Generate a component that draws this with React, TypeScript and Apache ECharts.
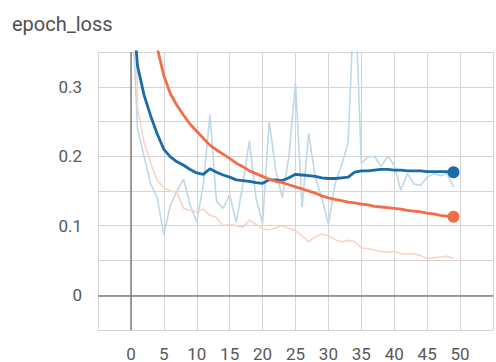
import React, { useEffect, useRef } from "react";
import * as echarts from "echarts";

const epochs = [
  0, 1, 2, 3, 4, 5, 6, 7, 8, 9, 10, 11, 12, 13, 14, 15, 16, 17, 18, 19, 20, 21, 22, 23, 24,
  25, 26, 27, 28, 29, 30, 31, 32, 33, 34, 35, 36, 37, 38, 39, 40, 41, 42, 43, 44, 45, 46, 47, 48, 49,
];

const blueRaw = [
  0.45, 0.24, 0.2, 0.16, 0.14, 0.087, 0.13, 0.15, 0.167, 0.13, 0.105, 0.16, 0.26, 0.135, 0.125,
  0.145, 0.105, 0.16, 0.222, 0.14, 0.103, 0.25, 0.18, 0.14, 0.2, 0.305, 0.127, 0.233, 0.17, 0.14,
  0.102, 0.16, 0.187, 0.22, 0.45, 0.19, 0.199, 0.2, 0.185, 0.2, 0.187, 0.151, 0.175, 0.16, 0.158,
  0.17, 0.175, 0.172, 0.175, 0.156,
];

const blueSmooth = [
  0.45, 0.33, 0.288, 0.258, 0.232, 0.21, 0.199, 0.192, 0.187, 0.181, 0.176, 0.174, 0.182, 0.177,
  0.173, 0.17, 0.166, 0.165, 0.164, 0.162, 0.161, 0.166, 0.166, 0.165, 0.169, 0.174, 0.173, 0.172,
  0.171, 0.169, 0.168, 0.168, 0.169, 0.17, 0.177, 0.179, 0.179, 0.18, 0.181, 0.181, 0.18, 0.18,
  0.179, 0.179, 0.179, 0.178, 0.178, 0.178, 0.178, 0.177,
];

const orangeRaw = [
  0.9, 0.27, 0.22, 0.19, 0.165, 0.155, 0.15, 0.148, 0.125, 0.122, 0.12, 0.124, 0.115, 0.112, 0.1,
  0.102, 0.1, 0.098, 0.108, 0.102, 0.096, 0.094, 0.097, 0.1, 0.096, 0.093, 0.085, 0.077, 0.084,
  0.088, 0.086, 0.08, 0.077, 0.079, 0.077, 0.068, 0.067, 0.065, 0.063, 0.062, 0.063, 0.06, 0.059,
  0.06, 0.057, 0.053, 0.054, 0.055, 0.056, 0.053,
];

const orangeSmooth = [
  0.9, 0.64, 0.5, 0.41, 0.356, 0.316, 0.29, 0.273, 0.259, 0.246, 0.236, 0.226, 0.216, 0.209, 0.203,
  0.197, 0.19, 0.185, 0.179, 0.175, 0.171, 0.167, 0.164, 0.162, 0.159, 0.156, 0.153, 0.15, 0.147,
  0.143, 0.14, 0.138, 0.136, 0.134, 0.133, 0.131, 0.13, 0.128, 0.127, 0.126, 0.125, 0.124, 0.122,
  0.121, 0.12, 0.118, 0.117, 0.115, 0.114, 0.113,
];

const xTickLabels = [0, 5, 10, 15, 20, 25, 30, 35, 40, 45, 50];
const yTickLabels = [0, 0.1, 0.2, 0.3];

const BLUE = "#1a6ba6";
const ORANGE = "#f26d48";
const BLUE_LIGHT = "#bfd8e8";
const ORANGE_LIGHT = "#f9d3c7";

const pair = (arr: number[]) => epochs.map((e, i) => [e, arr[i]]);

export default function App() {
  const ref = useRef<HTMLDivElement>(null);
  useEffect(() => {
    if (!ref.current) return;
    const chart = echarts.init(ref.current, undefined, { renderer: "svg" });
    const last = epochs.length - 1;
    chart.setOption({
      animation: false,
      backgroundColor: "#ffffff",
      textStyle: { fontFamily: "Roboto, Arial, sans-serif" },
      title: {
        text: "epoch_loss",
        left: 7,
        top: 9,
        textStyle: { fontSize: 20, fontWeight: "normal", color: "#505050", fontFamily: "Roboto, Arial, sans-serif" },
      },
      grid: { left: 98, top: 52, bottom: 31, right: -4, containLabel: false },
      xAxis: {
        type: "value",
        min: -5,
        max: 55,
        interval: 5,
        axisLine: { show: false },
        axisTick: { show: true, length: 5, lineStyle: { color: "#d0d0d0" } },
        splitLine: { show: true, lineStyle: { color: "#d4d4d4", width: 1 } },
        axisLabel: {
          margin: 15,
          fontSize: 17,
          color: "#585858",
          formatter: (v: number) => (xTickLabels.includes(Math.round(v)) && Math.abs(v - Math.round(v)) < 1e-6 ? String(Math.round(v)) : ""),
        },
      },
      yAxis: {
        type: "value",
        min: -0.05,
        max: 0.35,
        interval: 0.05,
        axisLine: { show: false },
        axisTick: { show: true, length: 5, lineStyle: { color: "#d0d0d0" } },
        splitLine: { show: true, lineStyle: { color: "#d4d4d4", width: 1 } },
        axisLabel: {
          margin: 16,
          fontSize: 17,
          color: "#585858",
          formatter: (v: number) => {
            const hit = yTickLabels.find((t) => Math.abs(t - v) < 1e-6);
            return hit === undefined ? "" : String(hit);
          },
        },
      },
      series: [
        {
          type: "line",
          data: pair(blueRaw),
          symbol: "none",
          lineStyle: { color: BLUE_LIGHT, width: 1.6 },
          z: 2,
          markLine: {
            silent: true,
            symbol: "none",
            label: { show: false },
            lineStyle: { color: "#808080", type: "solid", width: 1.5 },
            data: [{ xAxis: 0 }, { yAxis: 0 }],
          },
        },
        {
          type: "line",
          data: pair(orangeRaw),
          symbol: "none",
          lineStyle: { color: ORANGE_LIGHT, width: 1.6 },
          z: 2,
        },
        {
          type: "line",
          data: pair(blueSmooth),
          symbol: "none",
          lineStyle: { color: BLUE, width: 2.8 },
          z: 3,
        },
        {
          type: "line",
          data: pair(orangeSmooth),
          symbol: "none",
          lineStyle: { color: ORANGE, width: 2.8 },
          z: 4,
        },
        {
          type: "scatter",
          data: [
            { value: [epochs[last], blueSmooth[last]], itemStyle: { color: BLUE, opacity: 1 } },
            { value: [epochs[last], orangeSmooth[last]], itemStyle: { color: ORANGE, opacity: 1 } },
          ],
          symbolSize: 12,
          z: 5,
        },
      ],
    });
    return () => chart.dispose();
  }, []);
  return (
    <div
      ref={ref}
      style={{ position: "fixed", left: 0, top: 0, width: 496, height: 362 }}
    />
  );
}
